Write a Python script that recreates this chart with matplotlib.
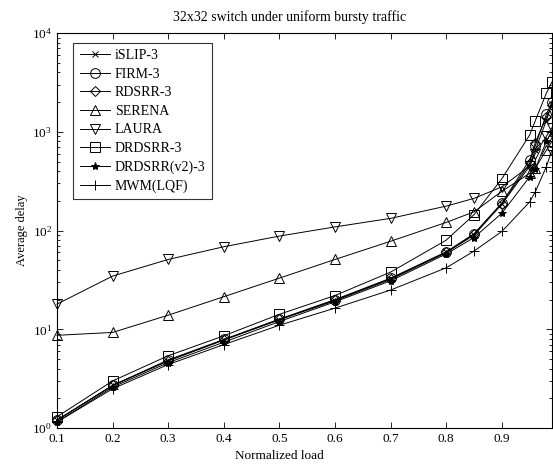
import matplotlib
matplotlib.use("Agg")
import matplotlib.pyplot as plt

plt.rcParams['font.family'] = ['Liberation Serif', 'DejaVu Serif']
plt.rcParams['mathtext.fontset'] = 'stix'

load = [0.1, 0.2, 0.3, 0.4, 0.5, 0.6, 0.7, 0.8, 0.85, 0.9, 0.95, 0.96, 0.98, 0.99]

islip = [1.2, 2.7, 4.8, 7.8, 12.5, 19.5, 32, 60, 90, 185, 450, 650, 1300, 1900]
firm = [1.2, 2.7, 4.9, 7.9, 12.7, 20, 33, 61, 93, 190, 520, 720, 1500, 2000]
rdsrr = [1.2, 2.7, 4.8, 7.8, 12.6, 19.8, 32.5, 60, 92, 188, 480, 780, 1400, 1850]
serena = [8.7, 9.3, 13.9, 21.4, 33, 51, 78, 121, 155, 250, 380, 430, 650, 800]
laura = [18, 34.6, 51, 68.6, 88, 109, 133, 177, 212, 277, 450, 600, 900, 1100]
drdsrr = [1.3, 3.0, 5.4, 8.6, 14.2, 22, 38, 80, 145, 335, 930, 1290, 2460, 3200]
drdsrr_v2 = [1.15, 2.6, 4.6, 7.4, 12, 19, 31, 58, 85, 150, 350, 420, 800, 1000]
mwm = [1.15, 2.5, 4.4, 7.0, 11, 16.4, 25, 42, 62, 98, 195, 246, 443, 650]

series = [
    ('iSLIP-3', islip, 'x'),
    ('FIRM-3', firm, 'o'),
    ('RDSRR-3', rdsrr, 'D'),
    ('SERENA', serena, '^'),
    ('LAURA', laura, 'v'),
    ('DRDSRR-3', drdsrr, 's'),
    ('DRDSRR(v2)-3', drdsrr_v2, '*'),
    ('MWM(LQF)', mwm, '+'),
]
sizes = {'x': 4.5, 'o': 7, 'D': 5.5, '^': 7, 'v': 7, 's': 7, '*': 6, '+': 7}

fig = plt.figure(figsize=(5.53, 4.73), dpi=100)
ax = fig.add_axes([0.103, 0.095, 0.895, 0.835])

for name, vals, mk in series:
    face = 'black' if mk == '*' else 'none'
    ax.plot(load, vals, color='black', linewidth=0.7, marker=mk,
            markersize=sizes[mk], markerfacecolor=face,
            markeredgecolor='black', markeredgewidth=0.7, label=name,
            clip_on=False)

ax.set_yscale('log')
ax.set_xlim(0.1, 0.99)
ax.set_ylim(1, 1e4)
ax.set_xticks([0.1, 0.2, 0.3, 0.4, 0.5, 0.6, 0.7, 0.8, 0.9])
ax.set_xticklabels(['0.1', '0.2', '0.3', '0.4', '0.5', '0.6', '0.7', '0.8', '0.9'])
ax.tick_params(which='both', direction='in', top=True, right=True,
               labelsize=9.5, width=0.6)
ax.tick_params(which='major', length=4)
ax.tick_params(which='minor', length=2)
for s in ax.spines.values():
    s.set_linewidth(0.8)

ax.set_xlabel('Normalized load', fontsize=9.5, labelpad=4, x=0.45)
ax.set_ylabel('Average delay', fontsize=9, labelpad=3)
ax.set_title('32x32 switch under uniform bursty traffic', fontsize=10, pad=9,
             x=0.469)

leg = ax.legend(loc='upper left', bbox_to_anchor=(0.033, 0.975), fontsize=10,
                frameon=True, fancybox=False, edgecolor='black',
                handlelength=2.2, labelspacing=0.4, borderpad=0.45,
                handletextpad=0.35, borderaxespad=0)
leg.get_frame().set_linewidth(0.8)

fig.savefig('out.png', dpi=100)
